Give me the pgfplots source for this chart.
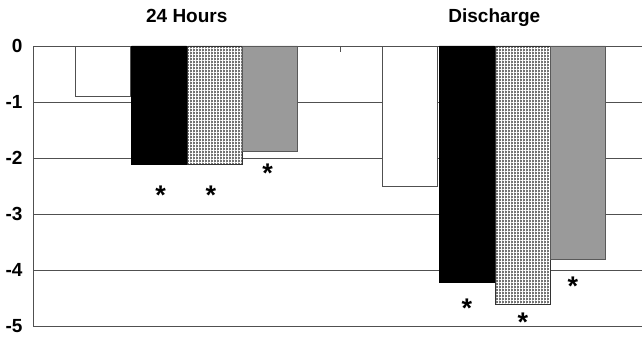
\documentclass[border=0pt]{standalone}
\usepackage{fontspec}
\setmainfont{Liberation Sans}
\usepackage{pgfplots}
\pgfplotsset{compat=1.18}
\usetikzlibrary{patterns.meta}
\definecolor{linegray}{HTML}{505050}
\definecolor{barGray}{HTML}{9A9A9A}
\begin{document}
\begin{tikzpicture}
\begin{axis}[
  scale only axis,
  width=609pt, height=280pt,
  xmin=-0.5, xmax=1.48,
  ymin=-5, ymax=0,
  axis x line*=top,
  axis y line*=left,
  axis line style={draw=linegray, line width=0.9pt},
  xtick={0,1},
  xticklabels={24 Hours, Discharge},
  xtick style={draw=none},
  xticklabel style={anchor=base, yshift=23pt},
  extra x ticks={0.5},
  extra x tick labels={},
  extra x tick style={xtick style={draw=linegray, line width=0.9pt}, major tick length=6.5pt, tick align=inside},
  ytick={0,-1,-2,-3,-4,-5},
  ytick style={draw=none},
  yticklabel style={xshift=-7pt},
  ymajorgrids,
  grid style={draw=linegray, line width=0.9pt},
  tick label style={font=\fontsize{19}{21}\selectfont\bfseries},
  /pgf/number format/assume math mode=true,
  clip=false,
]
\addplot[ybar, bar shift=0pt, bar width=0.179, fill=white, draw=linegray, line width=0.9pt]
  coordinates {(-0.272,-0.9) (0.727,-2.5)};
\addplot[ybar, bar shift=0pt, bar width=0.179, fill=black, draw=black, line width=0.9pt]
  coordinates {(-0.090,-2.11) (0.911,-4.22)};
\addplot[ybar, bar shift=0pt, bar width=0.179, fill=black!55, draw=black!80, line width=0.9pt,
  postaction={pattern color=white, pattern={Hatch[distance=3pt, line width=0.75pt]}}]
  coordinates {(0.092,-2.11) (1.093,-4.62)};
\addplot[ybar, bar shift=0pt, bar width=0.179, fill=barGray, draw=black!65, line width=0.9pt]
  coordinates {(0.271,-1.89) (1.272,-3.81)};
\addplot[only marks, mark=text, text mark={\raisebox{-15.4pt}{\fontsize{27}{30}\selectfont\bfseries *}},
  text mark style={base}]
  coordinates {(-0.085,-2.55) (0.078,-2.55) (0.263,-2.16) (0.911,-4.57) (1.093,-4.82) (1.255,-4.18)};
\end{axis}
\pgfresetboundingbox
\useasboundingbox ([xshift=-33pt, yshift=-13pt]current axis.south west) rectangle ([yshift=46pt]current axis.north east);
\end{tikzpicture}
\end{document}
